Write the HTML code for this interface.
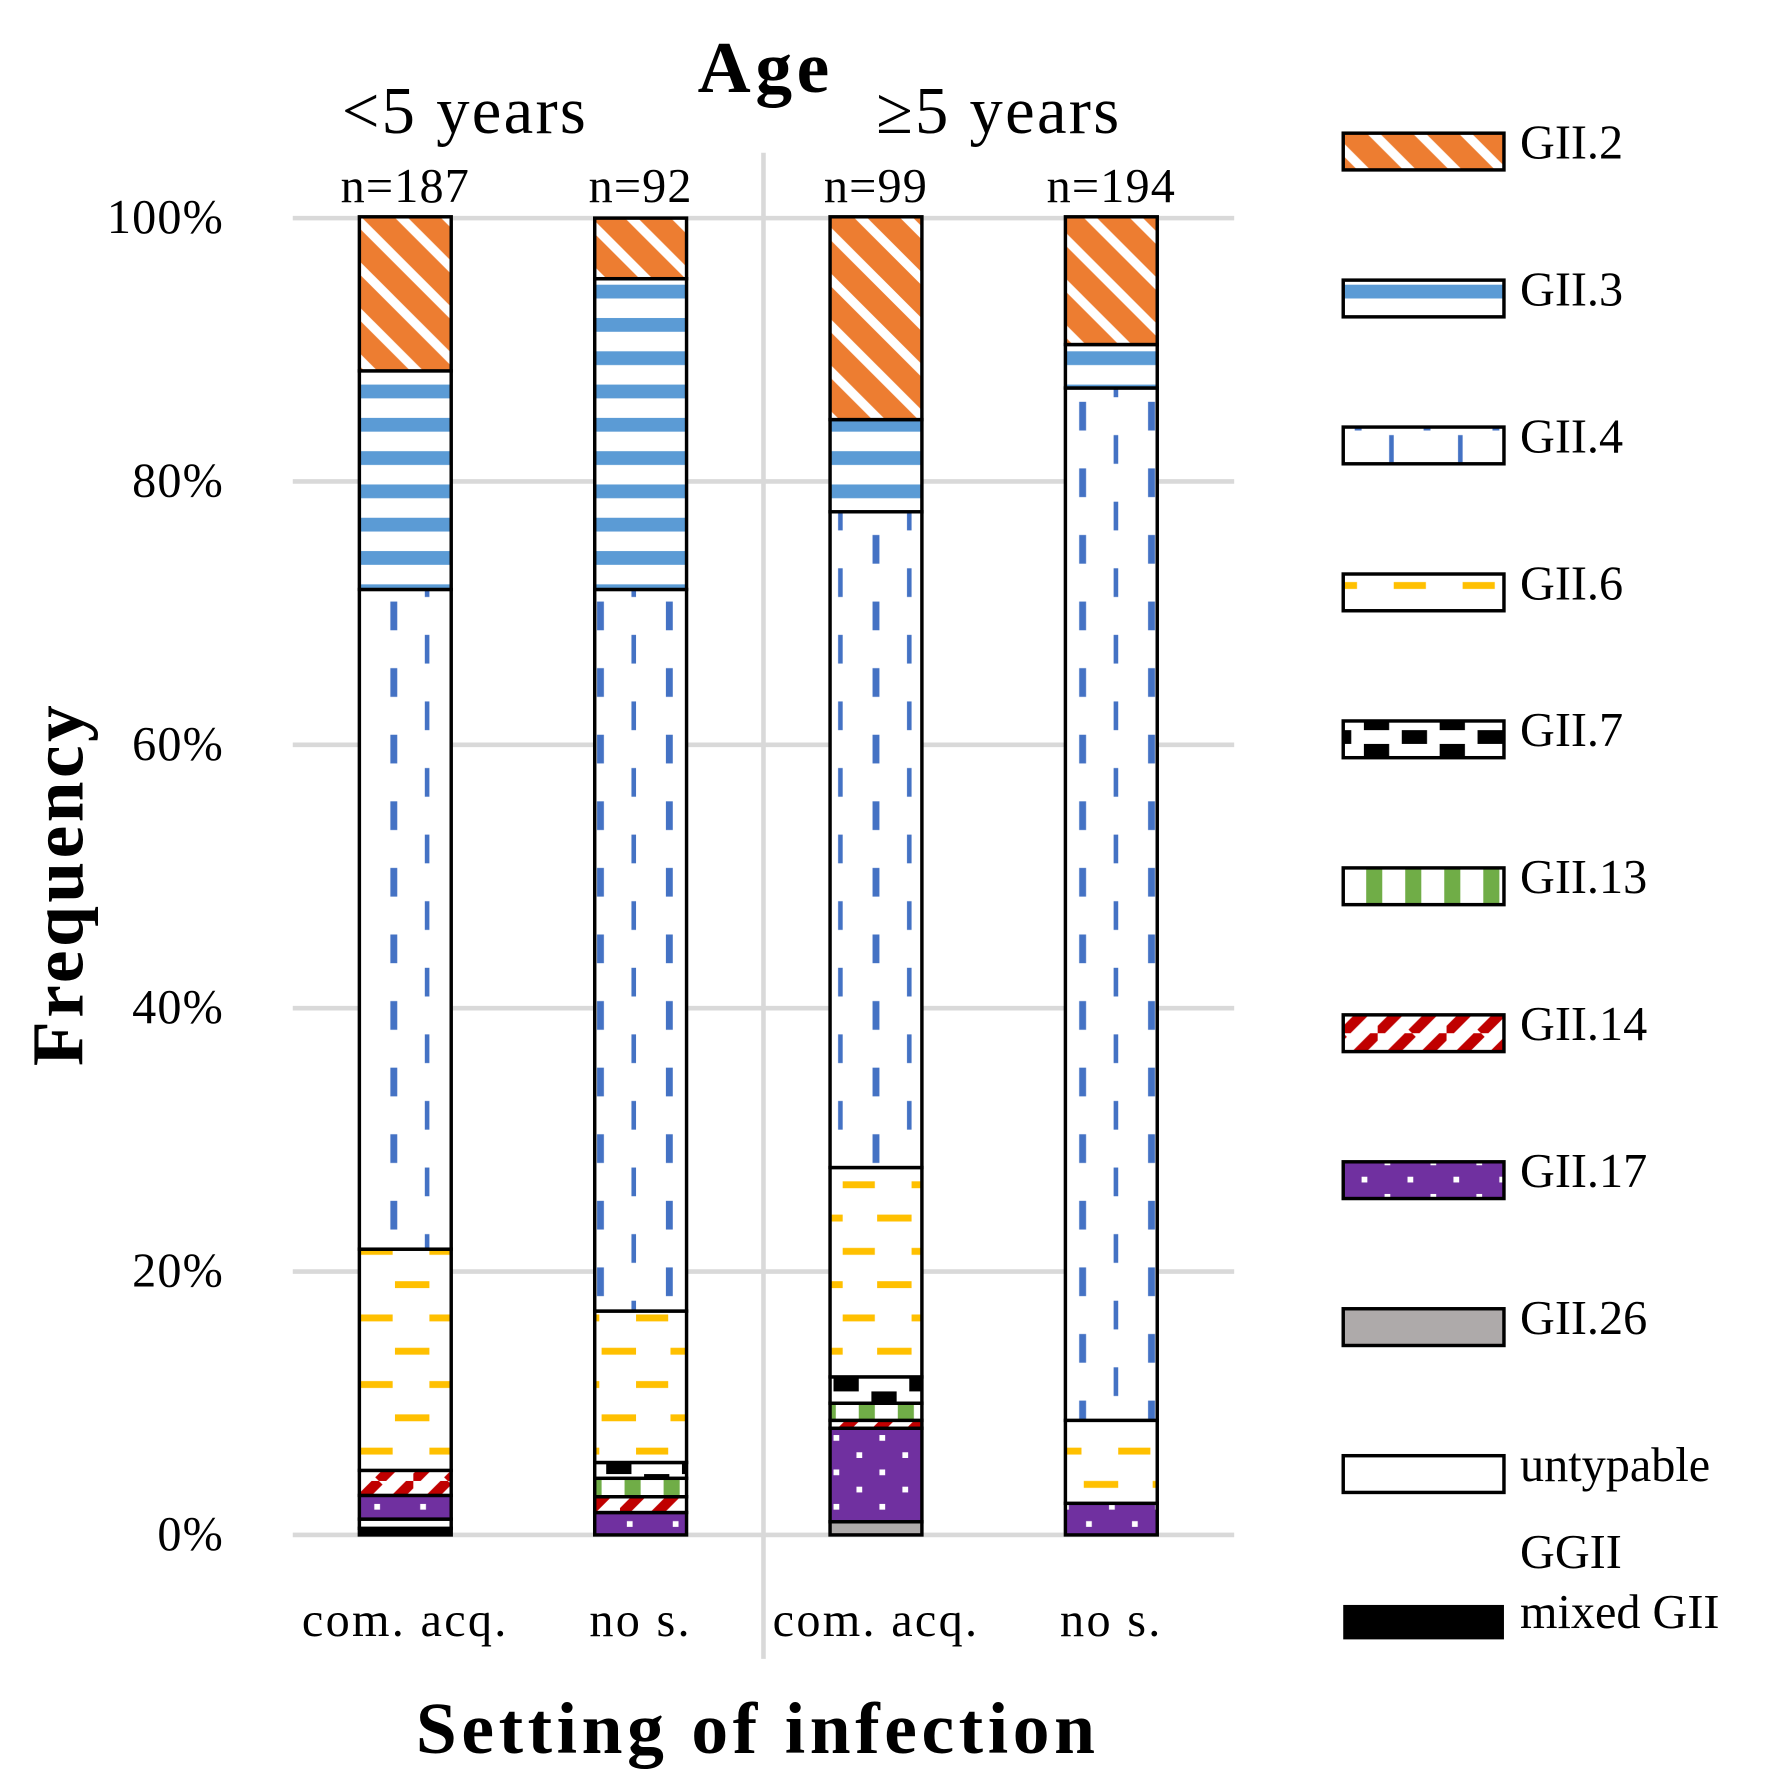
<!DOCTYPE html>
<html><head><meta charset="utf-8">
<style>
html,body{margin:0;padding:0;background:#fff;}
svg{display:block;}
text{font-family:"Liberation Serif",serif;fill:#000;}
</style></head>
<body>
<svg id="chart" width="1791" height="1776" viewBox="0 0 1560 1547" xmlns="http://www.w3.org/2000/svg">
<defs>
<pattern id="p-gii2" patternUnits="userSpaceOnUse" width="40" height="40">
<rect width="40" height="40" fill="#ED7D31"/>
<path d="M-10,-10 L50,50 M-10,30 L10,50 M30,-10 L50,10" stroke="#fff" stroke-width="8"/>
</pattern>
<pattern id="p-gii3" patternUnits="userSpaceOnUse" width="40" height="29">
<rect width="40" height="29" fill="#fff"/>
<rect y="16" width="40" height="12" fill="#5B9BD5"/>
</pattern>
<pattern id="p-gii4" patternUnits="userSpaceOnUse" width="60" height="58" x="314">
<rect width="60" height="58" fill="#fff"/>
<rect x="26" y="2" width="6" height="25" fill="#4472C4"/>
<rect x="56" y="31" width="6" height="25" fill="#4472C4"/>
</pattern>
<pattern id="p-gii6" patternUnits="userSpaceOnUse" width="60" height="58" x="314">
<rect width="60" height="58" fill="#fff"/>
<rect x="30" y="14" width="30" height="6" fill="#FFC000"/>
<rect x="0" y="43" width="28" height="6" fill="#FFC000"/>
</pattern>
<pattern id="p-gii7" patternUnits="userSpaceOnUse" width="66" height="24">
<rect width="66" height="24" fill="#fff"/>
<rect x="0" y="0" width="22" height="12" fill="#000"/>
<rect x="33" y="12" width="22" height="12" fill="#000"/>
</pattern>
<pattern id="p-gii13" patternUnits="userSpaceOnUse" width="34" height="20">
<rect width="34" height="20" fill="#fff"/>
<rect x="0" width="14" height="20" fill="#70AD47"/>
</pattern>
<pattern id="p-gii14" patternUnits="userSpaceOnUse" width="60" height="30">
<rect width="60" height="30" fill="#fff"/>
<path d="M0,30 L30,0 M30,30 L60,0" stroke="#C00000" stroke-width="9"/>
</pattern>
<pattern id="p-gii17" patternUnits="userSpaceOnUse" width="40" height="30">
<rect width="40" height="30" fill="#7030A0"/>
<rect x="6" y="20" width="5" height="5" fill="#fff"/>
<rect x="26" y="5" width="5" height="5" fill="#fff"/>
</pattern>
</defs>
<g id="grid"></g>
<g id="bars"></g>
<g id="labels"></g>
<g id="legend"></g>
</svg>
<script>
const categories = ["com. acq.", "no s.", "com. acq.", "no s."];
const sampleSizes = ["n=187", "n=92", "n=99", "n=194"];
const tickValues = [0, 20, 40, 60, 80, 100];
const tickLabels = ["0%", "20%", "40%", "60%", "80%", "100%"];
const seriesNames = ["mixed GII", "untypable", "GII.26", "GII.17", "GII.14", "GII.13", "GII.7", "GII.6", "GII.4", "GII.3", "GII.2"];
const mixedVals = [0.5, 0, 0, 0];
const untypableVals = [0.7, 0, 0, 0];
const gii26Vals = [0, 0, 1.0, 0];
const gii17Vals = [1.8, 1.7, 7.1, 2.4];
const gii14Vals = [1.9, 1.2, 0.6, 0];
const gii13Vals = [0, 1.4, 1.3, 0];
const gii7Vals = [0, 1.2, 2.0, 0];
const gii6Vals = [16.8, 11.5, 15.9, 6.3];
const gii4Vals = [50.1, 54.8, 49.8, 78.4];
const gii3Vals = [16.6, 23.6, 7.0, 3.3];
const gii2Vals = [11.7, 4.6, 15.4, 9.7];

const NS = "http://www.w3.org/2000/svg";
const fills = {"mixed GII":"#000","untypable":"#fff","GII.26":"#AEAAAA","GII.17":"url(#p-gii17)","GII.14":"url(#p-gii14)","GII.13":"url(#p-gii13)","GII.7":"url(#p-gii7)","GII.6":"url(#p-gii6)","GII.4":"url(#p-gii4)","GII.3":"url(#p-gii3)","GII.2":"url(#p-gii2)"};
const seriesVals = [mixedVals, untypableVals, gii26Vals, gii17Vals, gii14Vals, gii13Vals, gii7Vals, gii6Vals, gii4Vals, gii3Vals, gii2Vals];
const Y0 = 1337, Y100 = 190;
function yScale(v){ return Y0 - (Y0 - Y100) * v / 100; }
function xScale(i){ return 353 + i * 205; }
const BW = 80;
function mk(tag, attrs, parent, txt){
  const e = document.createElementNS(NS, tag);
  for (const k in attrs) e.setAttribute(k, attrs[k]);
  if (txt !== undefined) e.textContent = txt;
  parent.appendChild(e);
  return e;
}
const grid = document.getElementById('grid');
tickValues.forEach((t, i) => {
  const l = mk('line', {x1:255, x2:1075, y1:yScale(t), y2:yScale(t), stroke:'#d9d9d9', 'stroke-width':4}, grid);
  
  
  const tx = mk('text', {x:195, y:yScale(t)+13, 'text-anchor':'end', 'font-size':42, 'letter-spacing':1}, grid, tickLabels[i]);
  
  
});
const sep = mk('line', {x1:665, x2:665, y1:133, y2:1445, stroke:'#d9d9d9', 'stroke-width':4}, grid);



const bars = document.getElementById('bars');
categories.forEach((c, i) => {
  let acc = 0;
  seriesVals.forEach((vals, s) => {
    const v = vals[i];
    if (v <= 0) return;
    const yTop = yScale(acc + v), yBot = yScale(acc);
    const r = mk('rect', {x:xScale(i)-BW/2, y:yTop, width:BW, height:yBot-yTop, fill:fills[seriesNames[s]], stroke:'#000', 'stroke-width':3}, bars);
    
    
    acc += v;
  });
  const n = mk('text', {x:xScale(i), y:176, 'text-anchor':'middle', 'font-size':42, 'letter-spacing':1}, bars, sampleSizes[i]);
  
  
  const xl = mk('text', {x:xScale(i), y:1425, 'text-anchor':'middle', 'font-size':42, 'letter-spacing':2}, bars, c);
  
  
});

const lab = document.getElementById('labels');
const t1 = mk('text', {x:667, y:80, 'text-anchor':'middle', 'font-size':64, 'font-weight':'bold', 'letter-spacing':4}, lab, 'Age');


const t2 = mk('text', {x:405, y:116, 'text-anchor':'middle', 'font-size':58, 'letter-spacing':2}, lab, '<5 years');


const t3 = mk('text', {x:870, y:116, 'text-anchor':'middle', 'font-size':58, 'letter-spacing':2}, lab, '≥5 years');


const t4 = mk('text', {x:660, y:1527, 'text-anchor':'middle', 'font-size':64, 'font-weight':'bold', 'letter-spacing':4}, lab, 'Setting of infection');


const t5 = mk('text', {x:0, y:0, 'text-anchor':'middle', 'font-size':64, 'font-weight':'bold', 'letter-spacing':3, transform:'translate(72,770) rotate(-90)'}, lab, 'Frequency');



const leg = document.getElementById('legend');
const legendOrder = ["GII.2","GII.3","GII.4","GII.6","GII.7","GII.13","GII.14","GII.17","GII.26","untypable"];
legendOrder.forEach((name, k) => {
  const y = 116 + k * 128;
  const g = mk('g', {}, leg);
  
  
  mk('rect', {x:1170, y:y, width:140, height:32, fill:fills[name], stroke:'#000', 'stroke-width':3}, g);
  mk('text', {x:1324, y:y+22, 'font-size':42}, g, name);
});
const gm = mk('g', {}, leg);


mk('rect', {x:1170, y:1398, width:140, height:30, fill:'#000'}, gm);
mk('text', {x:1324, y:1366, 'font-size':42}, gm, 'GGII');
mk('text', {x:1324, y:1418, 'font-size':42}, gm, 'mixed GII');
</script>
</body></html>
